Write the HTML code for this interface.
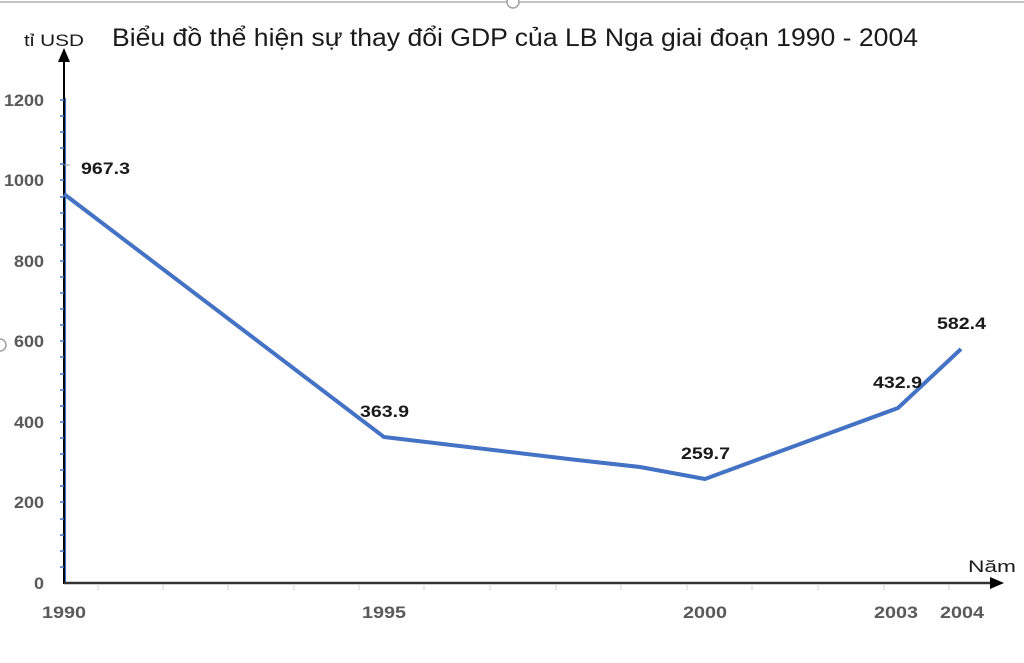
<!DOCTYPE html>
<html><head><meta charset="utf-8"><style>
html,body{margin:0;padding:0;background:#fff;width:1024px;height:663px;overflow:hidden}
svg{display:block}
text{font-family:"Liberation Sans","DejaVu Sans",sans-serif}
</style></head><body>
<svg width="1024" height="663" viewBox="0 0 1024 663" xmlns="http://www.w3.org/2000/svg">
<line x1="0" y1="2" x2="1024" y2="2" stroke="#b0b0b0" stroke-width="1.5"/>
<circle cx="513" cy="2" r="6" fill="#fff" stroke="#a0a0a0" stroke-width="1.5"/>
<circle cx="0" cy="345" r="6" fill="#fff" stroke="#a0a0a0" stroke-width="1.5"/>
<text x="112" y="46" font-size="25" fill="#1a1a1a" textLength="806" lengthAdjust="spacingAndGlyphs">Biểu đồ thể hiện sự thay đổi GDP của LB Nga giai đoạn 1990 - 2004</text>
<text x="24" y="46" font-size="17" fill="#1a1a1a" textLength="60" lengthAdjust="spacingAndGlyphs">tỉ USD</text>
<text x="968" y="572" font-size="17" fill="#1a1a1a" textLength="48" lengthAdjust="spacingAndGlyphs">Năm</text>
<line x1="64" y1="60" x2="64" y2="584" stroke="#000" stroke-width="2"/>
<line x1="65.5" y1="98" x2="65.5" y2="584" stroke="#4472c4" stroke-width="1.2"/>
<polygon points="64,48 58,62 70,62" fill="#000"/>
<g stroke="#4472c4" stroke-width="1.5">
<line x1="60" y1="100" x2="64" y2="100"/><line x1="60" y1="116" x2="64" y2="116"/><line x1="60" y1="132" x2="64" y2="132"/><line x1="60" y1="148" x2="64" y2="148"/><line x1="60" y1="164" x2="64" y2="164"/><line x1="60" y1="180" x2="64" y2="180"/><line x1="60" y1="197" x2="64" y2="197"/><line x1="60" y1="213" x2="64" y2="213"/><line x1="60" y1="229" x2="64" y2="229"/><line x1="60" y1="245" x2="64" y2="245"/><line x1="60" y1="261" x2="64" y2="261"/><line x1="60" y1="277" x2="64" y2="277"/><line x1="60" y1="293" x2="64" y2="293"/><line x1="60" y1="309" x2="64" y2="309"/><line x1="60" y1="325" x2="64" y2="325"/><line x1="60" y1="341" x2="64" y2="341"/><line x1="60" y1="357" x2="64" y2="357"/><line x1="60" y1="374" x2="64" y2="374"/><line x1="60" y1="390" x2="64" y2="390"/><line x1="60" y1="406" x2="64" y2="406"/><line x1="60" y1="422" x2="64" y2="422"/><line x1="60" y1="438" x2="64" y2="438"/><line x1="60" y1="454" x2="64" y2="454"/><line x1="60" y1="470" x2="64" y2="470"/><line x1="60" y1="486" x2="64" y2="486"/><line x1="60" y1="502" x2="64" y2="502"/><line x1="60" y1="519" x2="64" y2="519"/><line x1="60" y1="535" x2="64" y2="535"/><line x1="60" y1="551" x2="64" y2="551"/><line x1="60" y1="567" x2="64" y2="567"/>
</g>
<line x1="64" y1="165" x2="70" y2="165" stroke="#999" stroke-width="1"/>
<g font-size="17" font-weight="bold" fill="#595959">
<text x="4" y="106" textLength="40" lengthAdjust="spacingAndGlyphs">1200</text>
<text x="4" y="186" textLength="40" lengthAdjust="spacingAndGlyphs">1000</text>
<text x="14" y="267" textLength="30" lengthAdjust="spacingAndGlyphs">800</text>
<text x="14" y="347" textLength="30" lengthAdjust="spacingAndGlyphs">600</text>
<text x="14" y="428" textLength="30" lengthAdjust="spacingAndGlyphs">400</text>
<text x="14" y="508" textLength="30" lengthAdjust="spacingAndGlyphs">200</text>
<text x="34" y="589" textLength="10" lengthAdjust="spacingAndGlyphs">0</text>
</g>
<line x1="64" y1="583" x2="994" y2="583" stroke="#333" stroke-width="2.5"/>
<polygon points="1004,583 990,577 990,589" fill="#000"/>
<g stroke="#d0d0d0" stroke-width="1">
<line x1="98" y1="584" x2="98" y2="590"/><line x1="163" y1="584" x2="163" y2="590"/><line x1="228" y1="584" x2="228" y2="590"/><line x1="294" y1="584" x2="294" y2="590"/><line x1="359" y1="584" x2="359" y2="590"/><line x1="424" y1="584" x2="424" y2="590"/><line x1="490" y1="584" x2="490" y2="590"/><line x1="556" y1="584" x2="556" y2="590"/><line x1="621" y1="584" x2="621" y2="590"/><line x1="687" y1="584" x2="687" y2="590"/><line x1="752" y1="584" x2="752" y2="590"/><line x1="818" y1="584" x2="818" y2="590"/><line x1="884" y1="584" x2="884" y2="590"/><line x1="949" y1="584" x2="949" y2="590"/>
</g>
<g font-size="17" font-weight="bold" fill="#595959">
<text x="42" y="618" textLength="44" lengthAdjust="spacingAndGlyphs">1990</text>
<text x="362" y="618" textLength="44" lengthAdjust="spacingAndGlyphs">1995</text>
<text x="683" y="618" textLength="44" lengthAdjust="spacingAndGlyphs">2000</text>
<text x="874" y="618" textLength="44" lengthAdjust="spacingAndGlyphs">2003</text>
<text x="940" y="618" textLength="44" lengthAdjust="spacingAndGlyphs">2004</text>
</g>
<polyline points="64,194 384,437 577,460 640,467 705,479 898,408 961,349" fill="none" stroke="#4472c4" stroke-width="4" stroke-linejoin="round"/>
<g font-size="17" font-weight="bold" fill="#1a1a1a">
<text x="81" y="174" textLength="49" lengthAdjust="spacingAndGlyphs">967.3</text>
<text x="360" y="417" textLength="49" lengthAdjust="spacingAndGlyphs">363.9</text>
<text x="681" y="459" textLength="49" lengthAdjust="spacingAndGlyphs">259.7</text>
<text x="873" y="388" textLength="49" lengthAdjust="spacingAndGlyphs">432.9</text>
<text x="937" y="329" textLength="49" lengthAdjust="spacingAndGlyphs">582.4</text>
</g>
</svg>
</body></html>
